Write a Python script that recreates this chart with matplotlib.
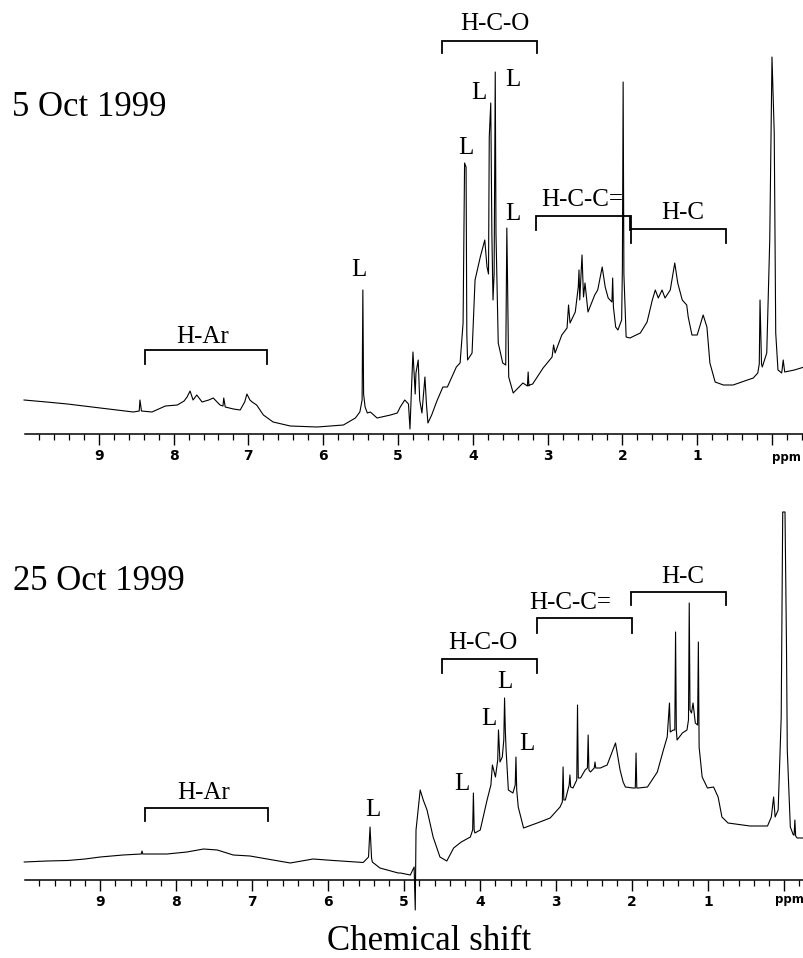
#!/usr/bin/env python3
"""
plot.py -- two 1H NMR spectra (5 Oct / 25 Oct 1999) with group brackets.
Writes out.png (804 x 958 px).
"""

import matplotlib.pyplot as plt
from matplotlib.ticker import FixedLocator, MultipleLocator

# ---- spectrum 1: 5 Oct 1999 (ppm, intensity a.u.) ----
top_ppm = [10.00, 9.70, 9.42, 9.20, 8.98, 8.75, 8.54, 8.46, 8.45, 8.43,
           8.29, 8.11, 7.95, 7.86, 7.82, 7.78, 7.74, 7.69, 7.62, 7.53,
           7.47, 7.38, 7.34, 7.33, 7.31, 7.20, 7.11, 7.05, 7.02, 6.98,
           6.95, 6.89, 6.80, 6.67, 6.44, 6.08, 5.73, 5.57, 5.51, 5.48,
           5.47, 5.46, 5.44, 5.41, 5.37, 5.28, 5.10, 5.01, 4.97, 4.91,
           4.86, 4.84, 4.82, 4.80, 4.77, 4.76, 4.73, 4.71, 4.68, 4.64,
           4.62, 4.60, 4.55, 4.48, 4.40, 4.34, 4.22, 4.17, 4.13, 4.11,
           4.09, 4.08, 4.07, 4.01, 3.97, 3.90, 3.84, 3.81, 3.79, 3.78,
           3.76, 3.745, 3.73, 3.715, 3.70, 3.69, 3.66, 3.60, 3.56, 3.545,
           3.535, 3.52, 3.46, 3.33, 3.27, 3.26, 3.25, 3.24, 3.20, 3.06,
           2.94, 2.92, 2.90, 2.81, 2.74, 2.72, 2.70, 2.63, 2.59, 2.58,
           2.57, 2.54, 2.52, 2.50, 2.46, 2.37, 2.33, 2.27, 2.23, 2.19,
           2.14, 2.13, 2.12, 2.09, 2.06, 2.01, 2.00, 1.99, 1.98, 1.95,
           1.90, 1.76, 1.67, 1.60, 1.56, 1.52, 1.47, 1.43, 1.36, 1.30,
           1.26, 1.20, 1.14, 1.12, 1.07, 1.00, 0.92, 0.87, 0.83, 0.76,
           0.65, 0.52, 0.25, 0.19, 0.17, 0.16, 0.14, 0.13, 0.07, 0.03,
           0.00, -0.03, -0.05, -0.08, -0.13, -0.15, -0.17, -0.30, -0.43]
top_int = [34, 32, 30, 28, 26, 24, 22, 23, 34, 23,
           22, 28, 29, 33, 37, 43, 34, 39, 32, 34,
           36, 29, 28, 36, 27, 25, 24, 32, 40, 34,
           32, 29, 19, 12, 8, 7, 9, 16, 22, 34,
           144, 40, 27, 21, 22, 16, 19, 21, 27, 34,
           30, 5, 45, 82, 40, 61, 74, 34, 21, 57,
           30, 11, 19, 33, 47, 47, 67, 71, 111, 271,
           267, 100, 74, 81, 154, 177, 194, 167, 160, 297,
           331, 200, 134, 160, 362, 200, 91, 71, 69, 206,
           150, 57, 41, 51, 48, 62, 48, 49, 50, 66,
           77, 89, 81, 99, 106, 129, 111, 122, 147, 164,
           134, 179, 137, 151, 122, 139, 144, 167, 147, 136,
           132, 156, 127, 107, 104, 114, 167, 352, 160, 97,
           96, 101, 112, 134, 144, 136, 144, 136, 144, 171,
           151, 134, 129, 117, 99, 99, 119, 107, 71, 52,
           49, 49, 56, 61, 70, 134, 70, 67, 81, 194,
           377, 301, 101, 64, 61, 74, 62, 64, 67]

# ---- spectrum 2: 25 Oct 1999 ----
bot_ppm = [10.00, 9.70, 9.43, 9.20, 9.00, 8.70, 8.46, 8.45, 8.44, 8.12,
           7.86, 7.64, 7.46, 7.25, 7.03, 6.80, 6.50, 6.20, 5.93, 5.54,
           5.47, 5.45, 5.43, 5.42, 5.32, 5.08, 5.05, 4.92, 4.87, 4.855,
           4.845, 4.79, 4.75, 4.70, 4.62, 4.53, 4.44, 4.35, 4.25, 4.13,
           4.10, 4.09, 4.08, 4.07, 4.00, 3.91, 3.86, 3.84, 3.80, 3.77,
           3.76, 3.74, 3.71, 3.69, 3.68, 3.67, 3.66, 3.63, 3.57, 3.54,
           3.53, 3.52, 3.50, 3.43, 3.25, 3.08, 2.95, 2.92, 2.91, 2.90,
           2.88, 2.83, 2.82, 2.81, 2.78, 2.73, 2.72, 2.71, 2.68, 2.62,
           2.59, 2.58, 2.57, 2.55, 2.50, 2.49, 2.48, 2.42, 2.33, 2.22,
           2.16, 2.12, 2.09, 1.99, 1.96, 1.95, 1.94, 1.92, 1.80, 1.67,
           1.59, 1.54, 1.51, 1.50, 1.46, 1.44, 1.43, 1.42, 1.41, 1.34,
           1.28, 1.26, 1.25, 1.24, 1.22, 1.20, 1.17, 1.14, 1.13, 1.12,
           1.08, 1.01, 0.93, 0.87, 0.82, 0.74, 0.45, 0.22, 0.17, 0.14,
           0.12, 0.08, 0.04, 0.02, -0.01, -0.03, -0.04, -0.08, -0.12, -0.13,
           -0.14, -0.15, -0.17, -0.26]
bot_int = [18, 19, 19.5, 21, 23, 25, 26, 29, 26, 26,
           28, 31, 30, 25, 24, 21, 17, 21, 19.5, 17.5,
           23, 53, 22, 18, 12, 7, 7, 5, 13, -30,
           50, 90, 80, 70, 43, 23, 19, 32, 38, 43,
           50, 87, 50, 47, 50, 80, 95, 115, 103, 120,
           150, 118, 123, 140, 182, 150, 130, 90, 87, 95,
           123, 90, 73, 52, 57, 62, 73, 78, 113, 80,
           80, 95, 105, 93, 92, 100, 175, 102, 102, 110,
           112, 145, 110, 108, 112, 118, 112, 112, 115, 137,
           110, 98, 93, 92, 92, 127, 92, 92, 93, 108,
           130, 143, 177, 148, 150, 150, 248, 150, 140, 147,
           150, 160, 277, 170, 167, 177, 157, 155, 238, 133,
           103, 92, 93, 83, 63, 57, 54, 54, 63, 83,
           63, 70, 163, 368, 368, 230, 130, 53, 45, 45,
           60, 44, 42, 42]

# ---- functional-group brackets (name, ppm from, ppm to) ----
groups = ['H-Ar', 'H-C-O', 'H-C-C=', 'H-C']
top_ranges = [(8.38, 6.75), (4.41, 3.14), (3.16, 1.90), (1.89, 0.61)]
bot_ranges = [(8.41, 6.79), (4.50, 3.25), (3.25, 2.00), (2.01, 0.76)]

W, H = 804, 958
SERIF = ['Liberation Serif', 'DejaVu Serif']
NARROW = ['Liberation Sans Narrow', 'DejaVu Sans']


def style_axis(ax, xlim, ylim):
    ax.set_xlim(*xlim)
    ax.set_ylim(*ylim)
    for s in ('top', 'left', 'right'):
        ax.spines[s].set_visible(False)
    ax.spines['bottom'].set_position(('data', 0))
    ax.spines['bottom'].set_linewidth(1.1)
    ax.set_yticks([])
    ax.xaxis.set_major_locator(FixedLocator(range(0, 11)))
    ax.xaxis.set_minor_locator(MultipleLocator(0.2))
    ax.set_xticklabels(['', '1', '2', '3', '4', '5', '6', '7', '8', '9', ''],
                       family=NARROW, fontsize=10, fontweight='bold')
    ax.tick_params(axis='x', which='major', direction='out', length=8,
                   width=1.0, pad=2.5)
    ax.tick_params(axis='x', which='minor', direction='out', length=4.5,
                   width=0.9)
    ax.patch.set_visible(False)


def bracket(ax, x0, x1, top, leg):
    ax.plot([x0, x0, x1, x1], [leg, top, top, leg], color='k', lw=1.3,
            clip_on=False, solid_joinstyle='miter')


def label(ax, x, y, s):
    ax.text(x, y, s, ha='center', va='center', family=SERIF, fontsize=18,
            clip_on=False)


fig = plt.figure(figsize=(W / 100, H / 100), dpi=100)

# ---- top panel ----
ax1 = fig.add_axes([25 / W, (H - 434) / H, 779 / W, 404 / H])
ax1.plot(top_ppm, top_int, color='k', lw=0.8, clip_on=False)
style_axis(ax1, (9.987, -0.428), (0, 404))
ax1.text(0.0, -24, 'ppm', ha='left', va='center', family=NARROW,
         fontsize=8.5, fontweight='bold')
top_bracket_y = [(84, 70), (393, 381), (218, 204), (205, 191)]
top_label_xy = [(7.61, 97), (3.70, 410), (2.54, 234), (1.19, 221)]
for (x0, x1), (t, l), (lx, ly), name in zip(top_ranges, top_bracket_y,
                                            top_label_xy, groups):
    bracket(ax1, x0, x1, t, l)
    label(ax1, lx, ly, name)
# left leg of H-C meets the H-C-C= bracket
ax1.plot([1.89, 1.89], [218, 205], color='k', lw=1.3)
for lx, ly in [(5.53, 164), (4.09, 286), (3.92, 341), (3.46, 354), (3.46, 220)]:
    label(ax1, lx, ly, 'L')

# ---- bottom panel ----
ax2 = fig.add_axes([25 / W, 38 / H, 779 / W, 420 / H])
ax2.plot(bot_ppm, bot_int, color='k', lw=0.8, clip_on=False)
style_axis(ax2, (9.99, -0.26), (-40, 380))
ax2.text(1.0, -20, 'ppm', ha='right', va='center', family=NARROW,
         fontsize=8.5, fontweight='bold',
         transform=ax2.get_yaxis_transform())
bot_bracket_y = [(72, 59), (221, 207), (262, 247), (288, 275)]
bot_label_xy = [(7.64, 87), (3.97, 237), (2.82, 277), (1.33, 303)]
for (x0, x1), (t, l), (lx, ly), name in zip(bot_ranges, bot_bracket_y,
                                            bot_label_xy, groups):
    bracket(ax2, x0, x1, t, l)
    label(ax2, lx, ly, name)
for lx, ly in [(5.41, 70), (4.24, 96), (3.89, 161), (3.67, 198), (3.39, 136)]:
    label(ax2, lx, ly, 'L')

# ---- dates and axis title ----
fig.text(12 / W, 1 - 107 / H, '5 Oct 1999', ha='left', va='center',
         family=SERIF, fontsize=25)
fig.text(13 / W, 1 - 582 / H, '25 Oct 1999', ha='left', va='center',
         family=SERIF, fontsize=25)
fig.text(429 / W, 1 - 941 / H, 'Chemical shift', ha='center', va='center',
         family=SERIF, fontsize=25)

fig.savefig('out.png', dpi=100)
plt.close(fig)
